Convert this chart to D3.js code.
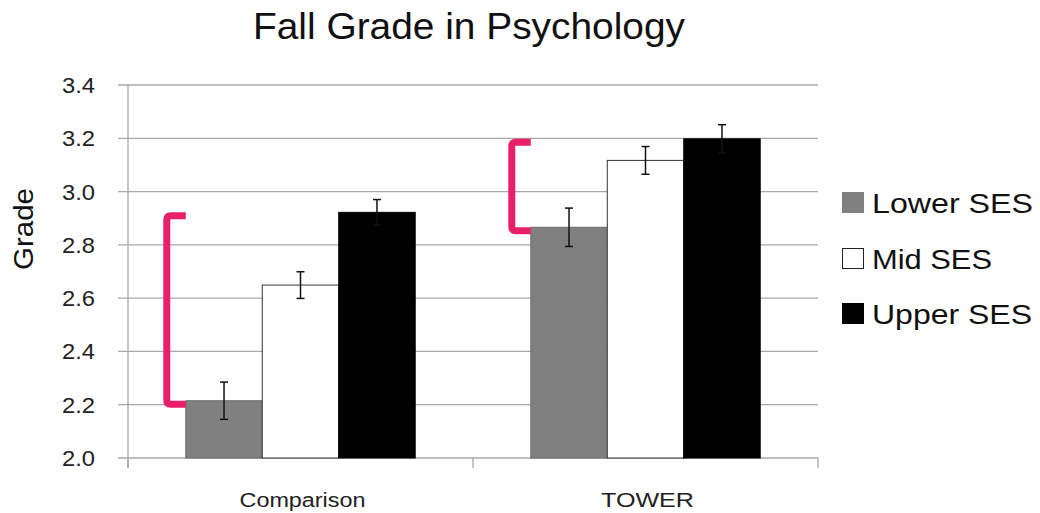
<!DOCTYPE html>
<html>
<head>
<meta charset="utf-8">
<script src="https://cdn.jsdelivr.net/npm/d3@7"></script>
<style>
  html, body { margin: 0; padding: 0; background: #fff; }
  svg { display: block; font-family: "Liberation Sans", Arial, sans-serif; }
</style>
</head>
<body>
<svg id="chart" width="1040" height="513"></svg>
<script>
const title = "Fall Grade in Psychology";
const yLabel = "Grade";
const categories = ["Comparison", "TOWER"];
const seriesNames = ["Lower SES", "Mid SES", "Upper SES"];
const lowerValues = [2.215, 2.866];
const midValues = [2.649, 3.117];
const upperValues = [2.922, 3.198];
const lowerErrors = [0.07, 0.072];
const midErrors = [0.05, 0.052];
const upperErrors = [0.048, 0.053];
const yTicks = [2.0, 2.2, 2.4, 2.6, 2.8, 3.0, 3.2, 3.4];

const seriesValues = [lowerValues, midValues, upperValues];
const seriesErrors = [lowerErrors, midErrors, upperErrors];
const seriesFill = ["#808080", "#ffffff", "#000000"];
const seriesStroke = ["#6e6e6e", "#333333", "#000000"];

const svg = d3.select("#chart");
const mLeft = 128, mRight = 818, mTop = 85, mBottom = 458;

const y = d3.scaleLinear().domain([2.0, 3.4]).range([mBottom, mTop]);
const x0 = d3.scaleBand().domain(categories).range([mLeft, mRight])
  .paddingInner(0.335).paddingOuter(0.1675);
const x1 = d3.scaleBand().domain(seriesNames).range([0, x0.bandwidth()]);

const gridColor = "#a8a8a8";

// gridlines
svg.append("g").selectAll("line").data(yTicks).join("line")
  .attr("x1", mLeft - 10).attr("x2", mRight)
  .attr("y1", d => y(d)).attr("y2", d => y(d))
  .attr("stroke", gridColor).attr("stroke-width", 1.3);

// y axis line
svg.append("line").attr("x1", mLeft).attr("x2", mLeft)
  .attr("y1", mTop).attr("y2", mBottom + 10)
  .attr("stroke", gridColor).attr("stroke-width", 1.3);

// category boundary ticks
const boundaries = [mLeft, mRight].concat(categories.slice(1).map(c => x0(c) - x0.step() * x0.paddingInner() / 2));
svg.append("g").selectAll("line").data(boundaries).join("line")
  .attr("x1", d => d).attr("x2", d => d)
  .attr("y1", mBottom).attr("y2", mBottom + 10)
  .attr("stroke", gridColor).attr("stroke-width", 1.3);

// y tick labels
svg.append("g").selectAll("text").data(yTicks).join("text")
  .attr("x", 95).attr("y", d => y(d) + 8)
  .attr("text-anchor", "end")
  .attr("font-size", 22).attr("fill", "#222")
  .attr("textLength", 33).attr("lengthAdjust", "spacingAndGlyphs")
  .text(d => d.toFixed(1));

// bars
const groups = svg.append("g").selectAll("g").data(categories).join("g")
  .attr("transform", c => `translate(${x0(c)},0)`);

seriesNames.forEach((s, si) => {
  groups.append("rect")
    .attr("x", x1(s))
    .attr("width", x1.bandwidth())
    .attr("y", (c, ci) => y(seriesValues[si][ci]))
    .attr("height", (c, ci) => mBottom - y(seriesValues[si][ci]))
    .attr("fill", seriesFill[si])
    .attr("stroke", seriesStroke[si])
    .attr("stroke-width", 1);
});

// error bars
seriesNames.forEach((s, si) => {
  const cx = x1(s) + x1.bandwidth() / 2;
  const eb = groups.append("g");
  eb.append("line")
    .attr("x1", cx).attr("x2", cx)
    .attr("y1", (c, ci) => y(seriesValues[si][ci] + seriesErrors[si][ci]))
    .attr("y2", (c, ci) => y(seriesValues[si][ci] - seriesErrors[si][ci]))
    .attr("stroke", "#111").attr("stroke-width", 1.5);
  [1, -1].forEach(sign => {
    eb.append("line")
      .attr("x1", cx - 4).attr("x2", cx + 4)
      .attr("y1", (c, ci) => y(seriesValues[si][ci] + sign * seriesErrors[si][ci]))
      .attr("y2", (c, ci) => y(seriesValues[si][ci] + sign * seriesErrors[si][ci]))
      .attr("stroke", "#111").attr("stroke-width", 1.5);
  });
});

// pink brackets from lower to upper value
groups.append("path")
  .attr("d", (c, ci) => {
    const xs = x1(seriesNames[0]);
    const yt = y(upperValues[ci]) + 3.5;
    const yb = y(lowerValues[ci]) + 3.5;
    const xv = xs - 19;
    const r = 4;
    return `M${xs},${yt} L${xv + r},${yt} Q${xv},${yt} ${xv},${yt + r} L${xv},${yb - r} Q${xv},${yb} ${xv + r},${yb} L${xs},${yb}`;
  })
  .attr("fill", "none").attr("stroke", "#e8206a").attr("stroke-width", 7)
  .attr("stroke-linecap", "butt").attr("stroke-linejoin", "round");

// category labels
svg.append("g").selectAll("text").data(categories).join("text")
  .attr("x", c => x0(c) + x0.bandwidth() / 2 + 2)
  .attr("y", 507)
  .attr("text-anchor", "middle")
  .attr("font-size", 20).attr("fill", "#222")
  .attr("textLength", (c, i) => [126, 93][i]).attr("lengthAdjust", "spacingAndGlyphs")
  .text(c => c);

// title
svg.append("text").attr("x", 469).attr("y", 38.5)
  .attr("text-anchor", "middle").attr("font-size", 37).attr("fill", "#111")
  .attr("textLength", 432).attr("lengthAdjust", "spacingAndGlyphs")
  .text(title);

// y label
svg.append("text")
  .attr("transform", "translate(33,229) rotate(-90)")
  .attr("text-anchor", "middle").attr("font-size", 28).attr("fill", "#111")
  .attr("textLength", 82).attr("lengthAdjust", "spacingAndGlyphs")
  .text(yLabel);

// legend
const legendTops = [192, 248, 303];
const legendWidths = [161, 120, 160];
const lg = svg.append("g").selectAll("g").data(seriesNames).join("g")
  .attr("transform", (d, i) => `translate(842,${legendTops[i]})`);
lg.append("rect").attr("x", 0.5).attr("y", 0.5).attr("width", 21).attr("height", 20)
  .attr("fill", (d, i) => seriesFill[i])
  .attr("stroke", (d, i) => i === 1 ? "#222" : seriesFill[i]).attr("stroke-width", 1);
lg.append("text").attr("x", 30).attr("y", 21)
  .attr("font-size", 28).attr("fill", "#111")
  .attr("textLength", (d, i) => legendWidths[i]).attr("lengthAdjust", "spacingAndGlyphs")
  .text(d => d);
</script>
</body>
</html>
